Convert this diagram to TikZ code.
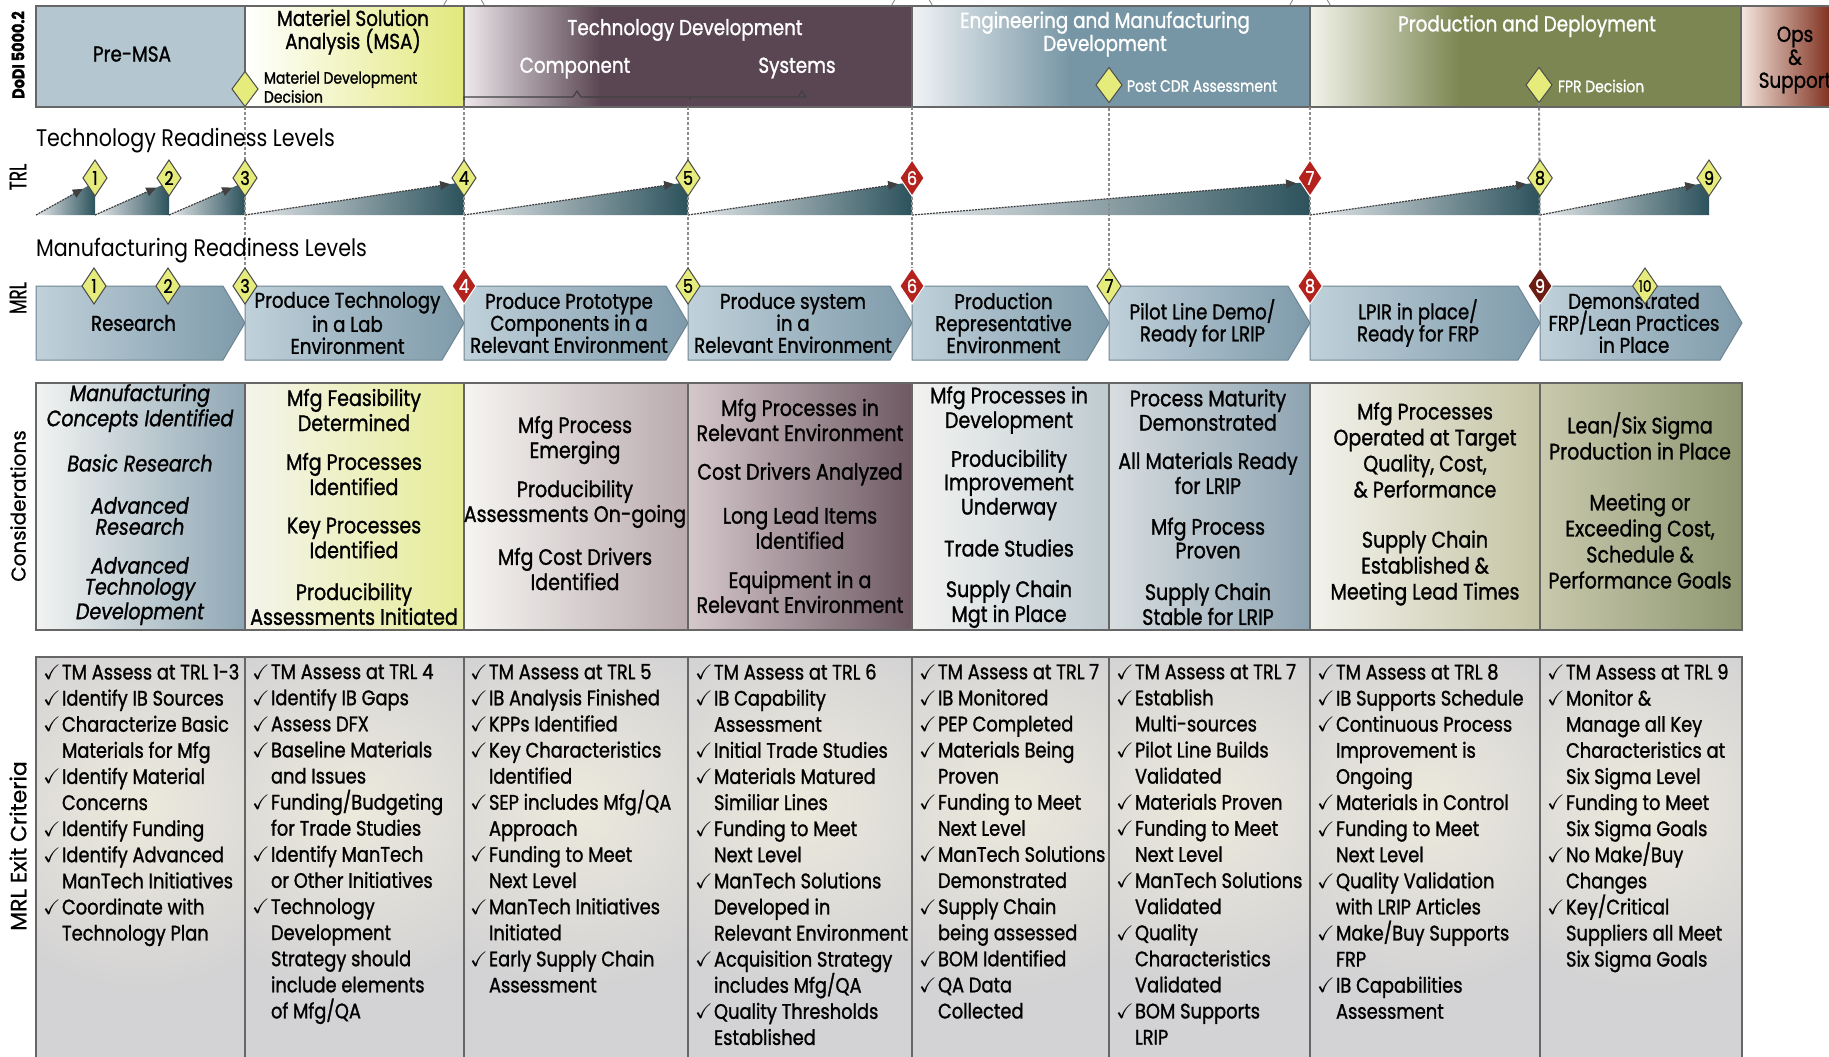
\documentclass[tikz,border=0pt]{standalone}
\usepackage{fontspec}
\usepackage{amssymb}
\usepackage{graphicx}
\setmainfont{Poppins}[FakeStretch=0.85, FakeBold=1.2]
\newfontfamily\plainfont{Poppins}[FakeBold=0.8]
\newfontfamily\titlefont{Poppins}[FakeStretch=0.86]
\usetikzlibrary{shapes.geometric,arrows.meta,calc}

% colours
\definecolor{premsa}{HTML}{B4C7D1}
\definecolor{msay}{HTML}{E2E87C}
\definecolor{tdplum}{HTML}{5A4652}
\definecolor{tdlite}{HTML}{EEE8EC}
\definecolor{emdblue}{HTML}{7796A5}
\definecolor{emdlite}{HTML}{F0F3F5}
\definecolor{pdolive}{HTML}{7B8652}
\definecolor{pdlite}{HTML}{F3F3EA}
\definecolor{opsbrown}{HTML}{7A2816}
\definecolor{opslite}{HTML}{F4E6DE}
\definecolor{rampL}{HTML}{E8EAEC}
\definecolor{rampR}{HTML}{2C525C}
\definecolor{chevL}{HTML}{C0D1DA}
\definecolor{chevR}{HTML}{7E9AAA}
\definecolor{chevB}{HTML}{6E8592}
\definecolor{dyel}{HTML}{E6EC7C}
\definecolor{dred}{HTML}{B3221D}
\definecolor{ddark}{HTML}{6C1C12}
\definecolor{exitbg}{HTML}{D3D2D4}
\definecolor{exitglow}{HTML}{ECE9DC}
\definecolor{kAL}{HTML}{F2F3F1}\definecolor{kAR}{HTML}{8FA7B5}
\definecolor{kBL}{HTML}{F4F4EC}\definecolor{kBR}{HTML}{E6EC96}
\definecolor{kCL}{HTML}{F6F5F2}\definecolor{kCR}{HTML}{B9AAAE}
\definecolor{kDL}{HTML}{D5C8CB}\definecolor{kDR}{HTML}{6E5963}
\definecolor{kEL}{HTML}{F3F3F1}\definecolor{kER}{HTML}{BFCBD1}
\definecolor{kFL}{HTML}{D8DDE0}\definecolor{kFR}{HTML}{8DA3B1}
\definecolor{kGL}{HTML}{F3F2EC}\definecolor{kGR}{HTML}{C4C4A4}
\definecolor{kHL}{HTML}{C9C9AD}\definecolor{kHR}{HTML}{8D9670}

\newcommand{\chk}{\makebox[9.5pt][l]{$\checkmark$}}
\newcommand{\cnt}{\hspace*{9.5pt}}

\begin{document}
\begin{tikzpicture}[x=0.5pt, y=-0.5pt,
	every node/.style = {inner sep=0pt, outer sep=0pt},
	frame/.style = {draw=black!60, line width=0.6pt},
	hdtitle/.style = {align=center, font=\fontsize{10.8}{11.5}\selectfont},
	hdsmall/.style = {anchor=west, align=left, font=\fontsize{8.2}{9.5}\selectfont},
	dmd/.style = {diamond, draw=black!70, line width=0.5pt, fill=dyel,
		minimum width=12pt, minimum height=18pt, font=\fontsize{9.5}{9.5}\selectfont},
	dmdred/.style = {dmd, fill=dred, draw=white, text=white},
	dmddark/.style = {dmd, fill=ddark, draw=white, text=white},
	milestone/.style = {regular polygon, regular polygon sides=3, draw=black!50,
		fill=white, minimum size=24pt, font=\fontsize{8}{8}\selectfont\bfseries},
	guide/.style = {draw=black!45, line width=1pt, dash pattern=on 1.5pt off 1pt},
	ramparrow/.style = {draw=black!75, line width=0.6pt, dash pattern=on 1pt off 0.5pt,
		-{Triangle[length=5pt, width=4.5pt]}},
	chevtext/.style = {align=center, font=\fontsize{10.7}{11}\selectfont},
	sidelabel/.style = {rotate=90, font=\plainfont\fontsize{10}{10}\selectfont},
	section/.style = {anchor=west, font=\titlefont\fontsize{12}{12}\selectfont},
	consid/.style = {align=center, font=\fontsize{11.2}{10.5}\selectfont},
	considit/.style = {consid, font=\fontsize{11.2}{10.5}\selectfont\itshape},
	considwide/.style = {consid, font=\fontsize{11.2}{13}\selectfont},
	exit/.style = {anchor=north west, align=left, font=\fontsize{10.5}{13.05}\selectfont}
	]
	\useasboundingbox (0,0) rectangle (1829,1056);
	\clip (0,0) rectangle (1829,1056);
	
	% milestones above the phases
	\foreach \x/\l in {464/A, 912/B, 1310/C}
		\node[milestone] (ms\l) at (\x,-6) {\l};
	
	% DoDI 5000.2 phases
	\fill[premsa] (36,6) rectangle (245,107);
	\shade[left color=white, right color=msay] (245,6) rectangle (464,107);
	\fill[tdplum] (464,6) rectangle (912,107);
	\shade[left color=tdlite, right color=tdplum] (464,6) rectangle (600,107);
	\fill[emdblue] (912,6) rectangle (1310,107);
	\shade[left color=emdlite, right color=emdblue] (912,6) rectangle (1070,107);
	\fill[pdolive] (1310,6) rectangle (1741,107);
	\shade[left color=pdlite, right color=pdolive] (1310,6) rectangle (1460,107);
	\shade[left color=opslite, right color=opsbrown] (1741,6) rectangle (1835,107);
	\draw[frame] (36,6) rectangle (1835,107);
	\foreach \x in {245,464,912,1310,1741}
		\draw[frame] (\x,6) -- (\x,107);
	\draw[black!75, line width=0.6pt] (464,100) -- (464,97) -- (573,97) -- (577,91) -- (581,97)
		-- (690,97) -- (806,97) -- (802,91) -- (798,97) -- (690,97) -- (690,100);
	
	\node[hdtitle] (premsa) at (132,54) {Pre-MSA};
	\node[hdtitle] (msa) at (353,32) {Materiel Solution\\Analysis (MSA)};
	\node[hdtitle, text=white] (td) at (685,30) {Technology Development};
	\node[hdtitle, text=white] (tdcomp) at (575,68) {Component};
	\node[hdtitle, text=white] (tdsys) at (797,68) {Systems};
	\node[hdtitle, text=white] (emd) at (1105,34) {Engineering and Manufacturing\\Development};
	\node[hdtitle, text=white] (pd) at (1527,26) {Production and Deployment};
	\node[hdtitle] (ops) at (1795,60) {Ops\\\&\\Support};
	
	\node[dmd, minimum width=13pt, minimum height=17.5pt] (mdd) at (245,89) {};
	\node[hdsmall] (mddtext) at (264,87) {Materiel Development\\Decision};
	\node[dmd, minimum width=13pt, minimum height=17.5pt] (pcdr) at (1109,85) {};
	\node[hdsmall, text=white] (pcdrtext) at (1127,86) {Post CDR Assessment};
	\node[dmd, minimum width=13pt, minimum height=17.5pt] (fpr) at (1539,85) {};
	\node[hdsmall, text=white] (fprtext) at (1558,86) {FPR Decision};
	
	% TRL ramps
	\foreach \a/\b/\n in {36/95/1, 95/169/2, 169/245/3, 245/464/4, 464/688/5,
		688/912/6, 912/1310/7, 1310/1540/8, 1540/1709/9}
	{
		\coordinate (ra\n) at (\a,215);
		\coordinate (rb\n) at (\b,215);
		\coordinate (rc\n) at (\b,182);
		\shade[left color=rampL, right color=rampR] (ra\n) -- (rb\n) -- (rc\n) -- cycle;
		\draw[ramparrow] (ra\n) -- ($(rc\n)!7pt!(ra\n)$);
	}
	
	% MRL chevrons
	\foreach \a/\b/\n/\t in {36/245/1/Research,
		245/464/2/{Produce Technology\\in a Lab\\Environment},
		464/688/3/{Produce Prototype\\Components in a\\Relevant Environment},
		688/912/4/{Produce system\\in a\\Relevant Environment},
		912/1109/5/{Production\\Representative\\Environment},
		1109/1310/6/{Pilot Line Demo/\\Ready for LRIP},
		1310/1540/7/{LPIR in place/\\Ready for FRP},
		1540/1742/8/{Demonstrated\\FRP/Lean Practices\\in Place}}
	{
		\shadedraw[left color=chevL, right color=chevR, draw=chevB, line width=0.5pt]
			(\a,286) -- ({\b-22},286) -- (\b,323) -- ({\b-22},360) -- (\a,360) -- cycle;
		\node[chevtext] (c\n) at ({(\a+\b)/2-7},323) {\t};
	}
	
	% MRL diamonds
	\foreach \x/\n/\s in {94/1/dmd, 168/2/dmd, 245/3/dmd, 464/4/dmdred, 688/5/dmd,
		912/6/dmdred, 1109/7/dmd, 1310/8/dmdred, 1540/9/dmddark}
		\node[\s] (m\n) at (\x,286) {\n};
	\node[dmd, font=\fontsize{8}{8}\selectfont] (m10) at (1645,286) {10};
	
	% guide lines
	\coordinate (hb4) at (464,107);
	\coordinate (hb5) at (688,107);
	\coordinate (hb6) at (912,107);
	\coordinate (hb8) at (1310,107);
	\draw[guide] (mdd.south) -- (m3.north);
	\draw[guide] (hb4) -- (m4.north);
	\draw[guide] (hb5) -- (m5.north);
	\draw[guide] (hb6) -- (m6.north);
	\draw[guide] (pcdr.south) -- (m7.north);
	\draw[guide] (hb8) -- (m8.north);
	\draw[guide] (fpr.south) -- (m9.north);
	
	% TRL diamonds
	\foreach \x/\n/\s in {95/1/dmd, 169/2/dmd, 245/3/dmd, 464/4/dmd, 688/5/dmd,
		912/6/dmdred, 1310/7/dmdred, 1540/8/dmd, 1709/9/dmd}
		\node[\s] (t\n) at (\x,178) {\n};
	
	% row labels
	\node[sidelabel, font=\fontsize{8.5}{8.5}\selectfont\bfseries] (lbdodi) at (18,55) {DoDI 5000.2};
	\node[sidelabel, font=\plainfont\fontsize{12}{12}\selectfont] (lbtrl) at (18,177) {\scalebox{0.7}[1]{TRL}};
	\node[sidelabel, font=\plainfont\fontsize{12}{12}\selectfont] (lbmrl) at (18,298) {\scalebox{0.7}[1]{MRL}};
	\node[sidelabel] (lbcons) at (18,506) {Considerations};
	\node[sidelabel, font=\plainfont\fontsize{11}{11}\selectfont] (lbexit) at (18,846) {MRL Exit Criteria};
	\node[section] (trltitle) at (36,141) {Technology Readiness Levels};
	\node[section] (mrltitle) at (36,251) {Manufacturing Readiness Levels};
	
	% considerations
	\foreach \a/\b/\l/\r in {36/245/kAL/kAR, 245/464/kBL/kBR, 464/688/kCL/kCR,
		688/912/kDL/kDR, 912/1109/kEL/kER, 1109/1310/kFL/kFR, 1310/1540/kGL/kGR,
		1540/1742/kHL/kHR}
		\shade[left color=\l, right color=\r] (\a,383) rectangle (\b,630);
	\draw[frame] (36,383) rectangle (1742,630);
	\foreach \x in {245,464,688,912,1109,1310,1540}
		\draw[frame] (\x,383) -- (\x,630);
	
	\node[considit] (k11) at (140,408) {Manufacturing\\Concepts Identified};
	\node[considit] (k12) at (140,463) {Basic Research};
	\node[considit] (k13) at (140,516) {Advanced\\Research};
	\node[considit] (k14) at (140,591) {Advanced\\Technology\\Development};
	\node[consid] (k21) at (354,410) {Mfg Feasibility\\Determined};
	\node[consid] (k22) at (354,474) {Mfg Processes\\Identified};
	\node[consid] (k23) at (354,538) {Key Processes\\Identified};
	\node[consid] (k24) at (354,604) {Producibility\\Assessments Initiated};
	\node[consid] (k31) at (575,440) {Mfg Process\\Emerging};
	\node[consid] (k32) at (575,504) {Producibility\\Assessments On-going};
	\node[consid] (k33) at (575,569) {Mfg Cost Drivers\\Identified};
	\node[consid] (k41) at (800,420) {Mfg Processes in\\Relevant Environment};
	\node[consid] (k42) at (800,474) {Cost Drivers Analyzed};
	\node[consid] (k43) at (800,528) {Long Lead Items\\Identified};
	\node[consid] (k44) at (800,592) {Equipment in a\\Relevant Environment};
	\node[consid] (k51) at (1009,410) {Mfg Processes in\\Development};
	\node[consid] (k52) at (1009,485) {Producibility\\Improvement\\Underway};
	\node[consid] (k53) at (1009,548) {Trade Studies};
	\node[consid] (k54) at (1009,604) {Supply Chain\\Mgt in Place};
	\node[consid] (k61) at (1208,410) {Process Maturity\\Demonstrated};
	\node[consid] (k62) at (1208,473) {All Materials Ready\\for LRIP};
	\node[consid] (k63) at (1208,538) {Mfg Process\\Proven};
	\node[consid] (k64) at (1208,604) {Supply Chain\\Stable for LRIP};
	\node[considwide] (k71) at (1425,450) {Mfg Processes\\Operated at Target\\Quality, Cost,\\\& Performance};
	\node[considwide] (k72) at (1425,568) {Supply Chain\\Established \&\\Meeting Lead Times};
	\node[considwide] (k81) at (1640,436) {Lean/Six Sigma\\Production in Place};
	\node[considwide] (k82) at (1640,541) {Meeting or\\Exceeding Cost,\\Schedule \&\\Performance Goals};
	
	% MRL exit criteria
	\fill[exitbg] (36,657) rectangle (1742,1070);
	\foreach \a/\b in {36/245, 245/464, 464/688, 688/912, 912/1109, 1109/1310,
		1310/1540, 1540/1742}
	{
		\begin{scope}
			\clip (\a,657) rectangle (\b,1070);
			\shade[inner color=exitglow, outer color=exitbg] ({(\a+\b)/2},805) circle (190);
		\end{scope}
	}
	\draw[frame] (36,657) rectangle (1742,1070);
	\foreach \x in {245,464,688,912,1109,1310,1540}
		\draw[frame] (\x,657) -- (\x,1070);
	
	\node[exit] (x1) at (43,664) {\chk TM Assess at TRL 1-3\\ \chk Identify IB Sources\\
		\chk Characterize Basic\\ \cnt Materials for Mfg\\ \chk Identify Material\\
		\cnt Concerns\\ \chk Identify Funding\\ \chk Identify Advanced\\
		\cnt ManTech Initiatives\\ \chk Coordinate with\\ \cnt Technology Plan};
	\node[exit] (x2) at (252,664) {\chk TM Assess at TRL 4\\ \chk Identify IB Gaps\\
		\chk Assess DFX\\ \chk Baseline Materials\\ \cnt and Issues\\
		\chk Funding/Budgeting\\ \cnt for Trade Studies\\ \chk Identify ManTech\\
		\cnt or Other Initiatives\\ \chk Technology\\ \cnt Development\\
		\cnt Strategy should\\ \cnt include elements\\ \cnt of Mfg/QA};
	\node[exit] (x3) at (470,664) {\chk TM Assess at TRL 5\\ \chk IB Analysis Finished\\
		\chk KPPs Identified\\ \chk Key Characteristics\\ \cnt Identified\\
		\chk SEP includes Mfg/QA\\ \cnt Approach\\ \chk Funding to Meet\\
		\cnt Next Level\\ \chk ManTech Initiatives\\ \cnt Initiated\\
		\chk Early Supply Chain\\ \cnt Assessment};
	\node[exit] (x4) at (695,664) {\chk TM Assess at TRL 6\\ \chk IB Capability\\
		\cnt Assessment\\ \chk Initial Trade Studies\\ \chk Materials Matured\\
		\cnt Similiar Lines\\ \chk Funding to Meet\\ \cnt Next Level\\
		\chk ManTech Solutions\\ \cnt Developed in\\ \cnt Relevant Environment\\
		\chk Acquisition Strategy\\ \cnt includes Mfg/QA\\ \chk Quality Thresholds\\
		\cnt Established};
	\node[exit] (x5) at (919,664) {\chk TM Assess at TRL 7\\ \chk IB Monitored\\
		\chk PEP Completed\\ \chk Materials Being\\ \cnt Proven\\ \chk Funding to Meet\\
		\cnt Next Level\\ \chk ManTech Solutions\\ \cnt Demonstrated\\
		\chk Supply Chain\\ \cnt being assessed\\ \chk BOM Identified\\
		\chk QA Data\\ \cnt Collected};
	\node[exit] (x6) at (1116,664) {\chk TM Assess at TRL 7\\ \chk Establish\\
		\cnt Multi-sources\\ \chk Pilot Line Builds\\ \cnt Validated\\
		\chk Materials Proven\\ \chk Funding to Meet\\ \cnt Next Level\\
		\chk ManTech Solutions\\ \cnt Validated\\ \chk Quality\\ \cnt Characteristics\\
		\cnt Validated\\ \chk BOM Supports\\ \cnt LRIP};
	\node[exit] (x7) at (1317,664) {\chk TM Assess at TRL 8\\ \chk IB Supports Schedule\\
		\chk Continuous Process\\ \cnt Improvement is\\ \cnt Ongoing\\
		\chk Materials in Control\\ \chk Funding to Meet\\ \cnt Next Level\\
		\chk Quality Validation\\ \cnt with LRIP Articles\\ \chk Make/Buy Supports\\
		\cnt FRP\\ \chk IB Capabilities\\ \cnt Assessment};
	\node[exit] (x8) at (1547,664) {\chk TM Assess at TRL 9\\ \chk Monitor \&\\
		\cnt Manage all Key\\ \cnt Characteristics at\\ \cnt Six Sigma Level\\
		\chk Funding to Meet\\ \cnt Six Sigma Goals\\ \chk No Make/Buy\\ \cnt Changes\\
		\chk Key/Critical\\ \cnt Suppliers all Meet\\ \cnt Six Sigma Goals};
\end{tikzpicture}
\end{document}
